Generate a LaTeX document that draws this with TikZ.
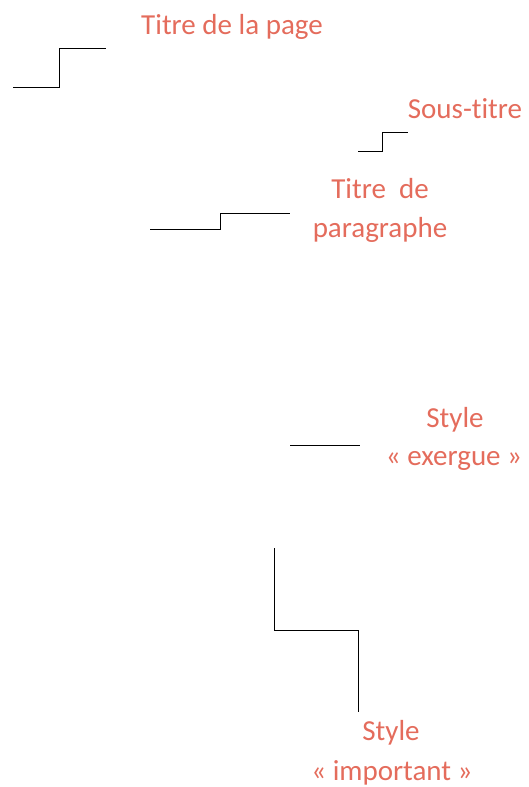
\documentclass[tikz,border=0pt]{standalone}
\usepackage{fontspec}
\setmainfont[Ligatures=NoCommon]{Carlito}
\usetikzlibrary{positioning}
\definecolor{saumon}{HTML}{E46C5C}
\tikzset{
	etiquette/.style={anchor=base, text=saumon, inner sep=0pt, font=\fontsize{29}{35}\selectfont},
	trait/.style={draw=black, line width=1pt}
}
\begin{document}
\begin{tikzpicture}[x=1pt, y=-1pt]
		\useasboundingbox (0,0) rectangle (528,787);

		\draw (232,34) node [etiquette] (page) {Titre de la page};
		\draw (465,118) node [etiquette] (sous) {Sous-titre};
		\draw (380,198) node [etiquette] (para1) {Titre\ \ de};
		\draw (380,237) node [etiquette] (para2) {paragraphe};
		\draw (455,427) node [etiquette] (exer1) {Style};
		\draw (454,465) node [etiquette] (exer2) {« exergue »};
		\draw (391,740) node [etiquette] (imp1) {Style};
		\draw (392,780) node [etiquette] (imp2) {« important »};

		\coordinate (p1) at (13,87);
		\coordinate (p2) at (106,48);
		\coordinate (s1) at (358,151);
		\coordinate (s2) at (408,132);
		\coordinate (t1) at (150,229);
		\coordinate (t2) at (290,213);
		\coordinate (e1) at (290,445);
		\coordinate (e2) at (360,445);
		\coordinate (i1) at (274,548);
		\coordinate (i2) at (358,712);

		\draw [trait] (p1) -- ++(46,0) |- (p2);
		\draw [trait] (s1) -- ++(24,0) |- (s2);
		\draw [trait] (t1) -- ++(70,0) |- (t2);
		\draw [trait] (e1) -- (e2);
		\draw [trait] (i1) -- ++(0,82) -| (i2);
	\end{tikzpicture}
\end{document}
